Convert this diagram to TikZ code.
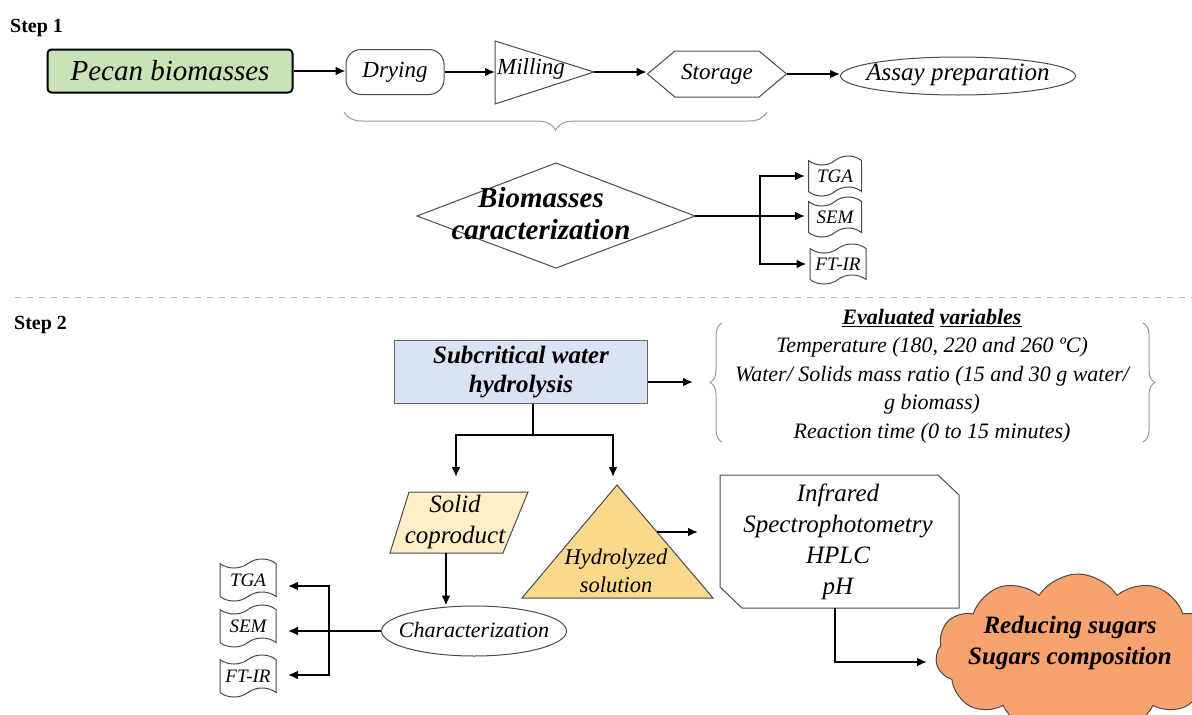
\documentclass[tikz,border=0pt]{standalone}
\usepackage{fontspec}
\setmainfont{Liberation Serif}
\usetikzlibrary{shapes.geometric,shapes.symbols,shapes.misc,arrows.meta,decorations.pathreplacing}
\definecolor{pecangreen}{HTML}{C9E2B8}
\definecolor{swhblue}{HTML}{DAE3F3}
\definecolor{solidyel}{HTML}{FFEFC6}
\definecolor{hydyel}{HTML}{FAD98C}
\definecolor{cloudor}{HTML}{F8A26E}
\definecolor{bracegray}{HTML}{9A9A9A}
\definecolor{shapeline}{HTML}{4A4A4A}
\tikzset{
  arr/.style={line width=2pt,-{Latex[length=10pt,width=9pt]}},
  ln/.style={line width=2pt},
  shp/.style={draw=shapeline,line width=1pt},
  it/.style={font=\fontsize{#1}{#1}\selectfont\itshape},
  tapebox/.style={tape,shp,minimum width=53pt,minimum height=40pt,inner sep=0pt,
    tape bend height=9pt,font=\fontsize{19}{20}\selectfont\itshape},
  bracedec/.style={draw=bracegray,line width=1pt,decorate},
}
\begin{document}
\begin{tikzpicture}[x=1pt,y=-1pt]
\useasboundingbox (0,0) rectangle (1192,715);
% Step labels
\node[anchor=west,inner sep=0,font=\fontsize{20}{22}\selectfont\bfseries] (step1) at (10,28) {Step 1};
\node[anchor=west,inner sep=0,font=\fontsize{20}{22}\selectfont\bfseries] (step2) at (14,325) {Step 2};
% Step 1 row
\node[draw,line width=2pt,rounded corners=4pt,fill=pecangreen,minimum width=245pt,minimum height=43pt,inner sep=0,
  font=\fontsize{29}{30}\selectfont\itshape] (pecan) at (170,71) {Pecan biomasses};
\node[shp,rounded corners=15pt,minimum width=98pt,minimum height=45pt,inner sep=0,it=23] (dry) at (395,72) {Drying};
\coordinate (millL) at (495,72);
\coordinate (millT) at (594,72);
\draw[shp] (495,41) -- (millT) -- (495,104) -- cycle;
\node[it=23,inner sep=0] (milltxt) at (531,69) {Milling};
\node[signal,signal to=west and east,signal pointer angle=80,shp,minimum width=139pt,minimum height=46pt,inner sep=0,it=23] (store) at (717,74) {Storage};
\node[ellipse,shp,minimum width=235pt,minimum height=38pt,inner sep=0] (assay) at (958,76) {};
\node[it=25,inner sep=0] (assaytxt) at (958,75) {Assay preparation};
\draw[arr] (pecan.east) -- (pecan.east -| dry.west);
\draw[arr] (dry.east) -- (millL);
\draw[arr] (millT) -- (millT -| store.west);
\draw[arr] (store.east) -- (store.east -| assay.west);
% brace
\coordinate (brA) at (344,112);
\coordinate (brB) at (767,112);
\draw[bracedec,decoration={brace,mirror,amplitude=18pt}] (brA) -- (brB);
% characterization diamond
\coordinate (diamW) at (417,216);
\coordinate (diamE) at (695,216);
\draw[shp] (diamW) -- (556,163) -- (diamE) -- (556,268) -- cycle;
\node[align=center,inner sep=0,font=\fontsize{29}{32}\selectfont\bfseries\itshape] (diam) at (541,214) {Biomasses\\caracterization};
\node[tapebox] (tga1) at (835,176) {TGA};
\node[tapebox] (sem1) at (835,217) {SEM};
\node[tapebox,minimum width=56pt] (ftir1) at (838,264) {FT-IR};
\coordinate (br1) at (760,216);
\draw[arr,shorten >=3pt] (diamE) -- (diamE -| sem1.west);
\draw[arr,shorten >=3pt] (br1) |- (tga1.west);
\draw[arr,shorten >=3pt] (br1) |- (ftir1.west);
% dashed separator
\coordinate (dl1) at (15,297);
\coordinate (dl2) at (1192,297);
\draw[draw=black!30,line width=1pt,dash pattern=on 6pt off 6pt] (dl1) -- (dl2);
% Step 2
\node[draw=black!60,line width=1.2pt,fill=swhblue,minimum width=253pt,minimum height=63pt,inner sep=0,align=center,
  font=\fontsize{25}{29}\selectfont\bfseries\itshape] (swh) at (521,372) {Subcritical water\\hydrolysis};
\node[align=center,inner sep=0,font=\fontsize{22}{28.5}\selectfont\itshape] (vars) at (932,376)
  {\textbf{\underline{Evaluated} \underline{variables}}\\
   Temperature (180, 220 and 260 ºC)\\
   Water/ Solids mass ratio (15 and 30 g water/\\
   g biomass)\\
   Reaction time (0 to 15 minutes)};
\coordinate (vbl1) at (722,442);
\coordinate (vbl2) at (722,323);
\coordinate (vbr1) at (1143,323);
\coordinate (vbr2) at (1143,442);
\draw[bracedec,decoration={brace,amplitude=12pt}] (vbl1) -- (vbl2);
\draw[bracedec,decoration={brace,amplitude=12pt}] (vbr1) -- (vbr2);
\coordinate (evl) at (693,382);
\draw[arr] (swh.east |- evl) -- (evl);
% split
\coordinate (sp) at (533,435);
\coordinate (spl) at (456,477);
\coordinate (spr) at (613,477);
\draw[ln] (swh.south -| sp) -- (sp);
\draw[arr] (sp) -| (spl);
\draw[arr] (sp) -| (spr);
% solid coproduct
\draw[shp,fill=solidyel] (409,492) -- (528,492) -- (503,553) -- (390,553) -- cycle;
\node[align=center,inner sep=0,font=\fontsize{25}{31}\selectfont\itshape] (solid) at (455,522) {Solid\\coproduct};
\coordinate (solb) at (446,553);
\node[ellipse,shp,minimum width=185pt,minimum height=50pt,inner sep=0] (charz) at (474,631) {};
\node[it=22,inner sep=0] (charztxt) at (474,630) {Characterization};
\draw[arr] (solb) -- (charz.north -| solb);
% left tapes
\node[tapebox,minimum width=56pt,minimum height=42pt] (tga2) at (248,580) {TGA};
\node[tapebox,minimum width=56pt,minimum height=42pt] (sem2) at (248,626) {SEM};
\node[tapebox,minimum width=56pt,minimum height=42pt] (ftir2) at (248,676) {FT-IR};
\coordinate (br2) at (329,631);
\coordinate (tgaIn) at (288,586);
\coordinate (semIn) at (288,631);
\coordinate (ftirIn) at (288,675);
\draw[arr] (charz.west) -- (semIn);
\draw[arr] (br2) |- (tgaIn);
\draw[arr] (br2) |- (ftirIn);
% hydrolyzed triangle
\coordinate (hydA) at (617,485);
\coordinate (hydR) at (657,532);
\draw[shp,fill=hydyel] (hydA) -- (713,598) -- (522,598) -- cycle;
\node[align=center,inner sep=0,font=\fontsize{22.5}{28}\selectfont\itshape] (hyd) at (616,571) {Hydrolyzed\\solution};
% analysis box
\draw[shp] (720,475) -- (938,475) -- (959,495) -- (959,608) -- (742,608) -- (720,587) -- cycle;
\node[align=center,inner sep=0,font=\fontsize{25}{31}\selectfont\itshape] (anal) at (838,542)
  {Infrared\\Spectrophotometry\\HPLC\\pH};
\coordinate (analL) at (698,532);
\draw[arr] (hydR) -- (analL);
% cloud
\node[cloud,cloud puffs=11,cloud puff arc=115,aspect=1.9,shp,fill=cloudor,minimum width=285pt,minimum height=160pt,inner sep=0] (cloud) at (1078,654) {};
\node[align=center,inner sep=0,font=\fontsize{25}{31}\selectfont\bfseries\itshape] (res) at (1070,643)
  {Reducing sugars\\Sugars composition};
\coordinate (anb) at (835,608);
\coordinate (clw) at (927,662);
\draw[arr] (anb) |- (clw);
\end{tikzpicture}
\end{document}
